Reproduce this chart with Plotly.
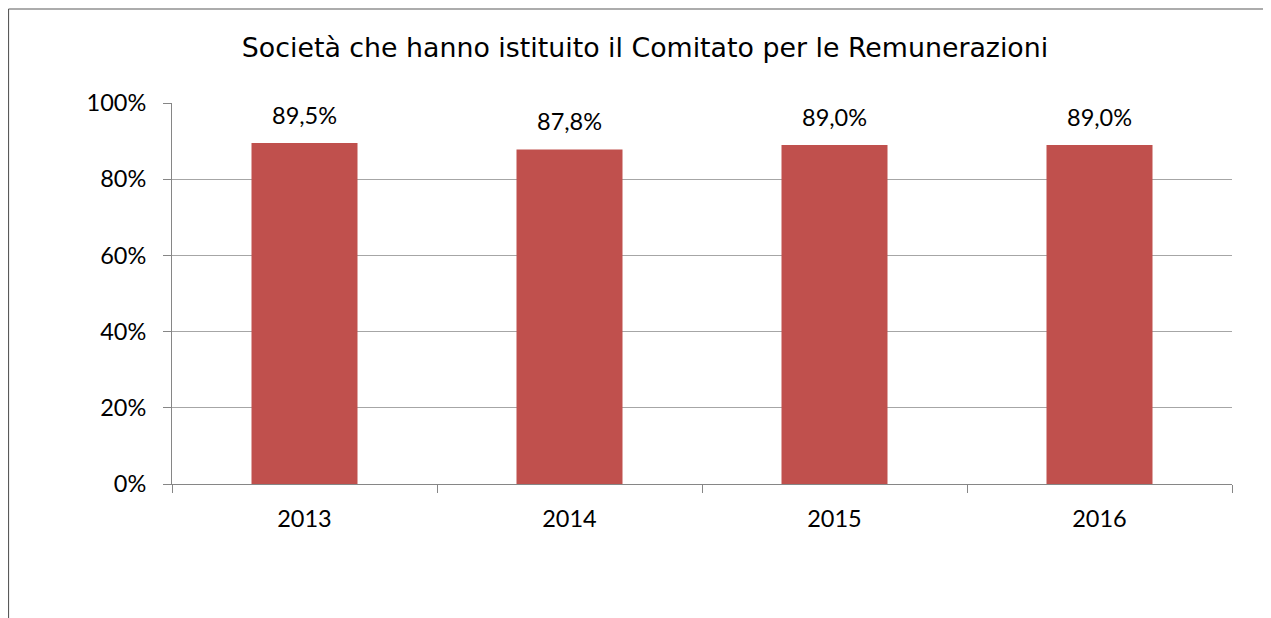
import plotly.graph_objects as go

years = ["2013", "2014", "2015", "2016"]
values = [89.5, 87.8, 89.0, 89.0]
y_ticks = [0, 20, 40, 60, 80, 100]
y_tick_labels = ["0%", "20%", "40%", "60%", "80%", "100%"]
title_text = "Società che hanno istituito il Comitato per le Remunerazioni"

BAR = "#C0504D"
GRID = "#A6A6A6"
AXIS = "#868686"
TICKFONT = dict(family="Lato", size=23.5, color="#000")

fig = go.Figure()
fig.add_trace(go.Bar(x=years, y=values, marker=dict(color=BAR, line=dict(width=0)),
                     hoverinfo="skip"))

for i, v in enumerate(values):
    fig.add_annotation(x=i, y=v, xref="x", yref="y",
                       text=f"{v:.1f}".replace(".", ",") + "%",
                       showarrow=False, yanchor="bottom", yshift=12,
                       font=TICKFONT)

W, H = 1271, 618
L, R, T, B = 164, 47, 95, 142
pw, ph = W - L - R, H - T - B
bx = (0.5 - L) / pw
by = (H - B - 1) / ph

fig.add_shape(type="line", xref="paper", yref="paper", x0=bx, x1=bx, y0=-0.5, y1=by,
              line=dict(color="#5A5A5A", width=1.2))
fig.add_shape(type="line", xref="paper", yref="paper", x0=bx, x1=1.2, y0=by, y1=by,
              line=dict(color="#5A5A5A", width=1.2))

fig.update_layout(
    width=W, height=H,
    margin=dict(l=L, r=R, t=T, b=B),
    paper_bgcolor="white", plot_bgcolor="white",
    showlegend=False,
    title=dict(text=title_text, x=(637 - L) / pw, xref="paper", xanchor="center",
               y=1 - 40 / H, yanchor="middle",
               font=dict(family="DejaVu Sans", size=26.8, color="#000")),
    bargap=0.6,
)
fig.update_xaxes(type="category", range=[-0.5, 3.5], tickson="boundaries",
                 ticks="outside", ticklen=8,
                 tickcolor=AXIS, showline=True, linecolor=AXIS, linewidth=1,
                 showgrid=False, tickfont=TICKFONT, tickangle=0,
                 ticklabelstandoff=14)
fig.update_yaxes(range=[0, 100], tickmode="array", tickvals=y_ticks, ticktext=y_tick_labels,
                 ticks="outside", ticklen=8, tickcolor=AXIS, showline=True,
                 linecolor=AXIS, linewidth=1,
                 showgrid=True, gridcolor=GRID, gridwidth=1, zeroline=False,
                 tickfont=TICKFONT, ticklabelstandoff=12)

fig.write_html("out.html")
